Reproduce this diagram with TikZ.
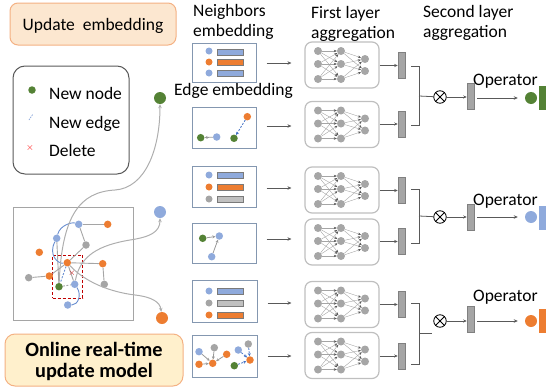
\documentclass[tikz,border=0pt]{standalone}
\usepackage{fontspec}
\setmainfont{Carlito}
\usetikzlibrary{arrows.meta}
\definecolor{cblue}{RGB}{143,170,220}
\definecolor{dblue}{RGB}{68,114,196}
\definecolor{corange}{RGB}{237,125,49}
\definecolor{cgray}{RGB}{165,165,165}
\definecolor{cgreen}{RGB}{84,130,53}
\definecolor{ebord}{RGB}{132,151,176}
\definecolor{nnbord}{RGB}{191,191,191}
\definecolor{darkl}{RGB}{89,89,89}
\definecolor{peach}{RGB}{252,231,208}
\definecolor{orbord}{RGB}{244,177,131}
\definecolor{ylw}{RGB}{255,240,204}
\definecolor{nnode}{RGB}{166,166,166}
\definecolor{delred}{RGB}{192,0,0}
\newcommand\nnet[2]{%
  \node[nnbox] (#1) at (342,#2) {};
  \node[nn] (#1a1) at (318,{#2-14}) {};
  \node[nn] (#1a2) at (318,{#2-1}) {};
  \node[nn] (#1a3) at (318,{#2+14}) {};
  \node[nn] (#1b1) at (341,{#2-14}) {};
  \node[nn] (#1b2) at (341,{#2-1}) {};
  \node[nn] (#1b3) at (341,{#2+14}) {};
  \node[nn] (#1c1) at (365,{#2-6}) {};
  \node[nn] (#1c2) at (365,{#2+6}) {};
  \foreach \i in {1,2,3}{\foreach \j in {1,2,3}{\draw[nnl] (#1a\i) -- (#1b\j);}}
  \foreach \i in {1,2,3}{\foreach \j in {1,2}{\draw[nnl] (#1b\i) -- (#1c\j);}}
}
\begin{document}
\begin{tikzpicture}[x=1pt,y=-1pt,
  txt/.style={font=\fontsize{17.5}{20}\selectfont, inner sep=0, anchor=base west},
  dot/.style={circle, inner sep=0, minimum size=7.5pt},
  gnode/.style={circle, inner sep=0, minimum size=7.5pt},
  bignode/.style={circle, inner sep=0, minimum size=12pt},
  ebox/.style={draw=ebord, line width=1pt, inner sep=0},
  ebar/.style={draw=darkl!80, line width=0.6pt, inner sep=0, minimum width=26pt, minimum height=6pt},
  nnbox/.style={draw=nnbord, line width=1.2pt, rounded corners=7pt, minimum width=74pt, minimum height=46pt, inner sep=0},
  nn/.style={circle, fill=nnode, inner sep=0, minimum size=8pt},
  nnl/.style={draw=cgray, line width=0.4pt, -{Stealth[length=3pt,width=2.5pt,color=darkl]}},
  gbar/.style={fill=cgray, draw=gray, line width=0.5pt, minimum width=7pt, minimum height=26pt, inner sep=0},
  cbar/.style={minimum width=7pt, minimum height=24pt, inner sep=0},
  arr/.style={draw=darkl, line width=0.9pt, -{Stealth[length=4pt,width=3.5pt]}},
  thinarr/.style={draw=darkl, line width=0.7pt, -{Stealth[length=3.5pt,width=3pt]}},
  garr/.style={draw=cgray!90, line width=1pt, -{Stealth[length=4pt,width=3.5pt]}},
  gedge/.style={draw=cgray, line width=0.9pt},
  bedge/.style={draw=dblue!80, line width=0.9pt},
  smallg/.style={draw=gray!80, line width=0.8pt, -{Stealth[length=3pt,width=3pt]}},
  smallb/.style={draw=dblue, line width=0.8pt, dashed, dash pattern=on 2pt off 1.5pt, -{Stealth[length=3pt,width=3pt]}},
  brk/.style={draw=darkl, line width=0.8pt},
  otimes/.style={circle, draw=black, line width=0.8pt, minimum size=12.5pt, inner sep=0}
]
\useasboundingbox (0,0) rectangle (549,391);

% ---------- left side ----------
\node[draw=orbord, fill=peach, line width=1pt, rounded corners=8pt, minimum width=166pt, minimum height=42pt, inner sep=0] (upd) at (93,24) {};
\node[font=\fontsize{17.5}{20}\selectfont, inner sep=0, anchor=base] (updt) at (93,30) {Update~\ embedding};

\node[draw=darkl, line width=1pt, rounded corners=12pt, minimum width=116pt, minimum height=108pt, inner sep=0] (leg) at (71,120) {};
\node[dot, fill=cgreen] (lg1) at (32,90) {};
\node[txt] (lt1) at (49,99) {New node};
\coordinate (le1) at (29,120);
\coordinate (le2) at (33,114);
\draw[draw=cblue, line width=0.8pt, dash pattern=on 1.5pt off 1pt] (le1) -- (le2);
\node[txt] (lt2) at (49,128) {New edge};
\node[text=red, font=\fontsize{10}{10}\selectfont, inner sep=0] (lx) at (30,148) {$\times$};
\node[txt] (lt3) at (49,156) {Delete};

% graph box
\node[draw=cgray, line width=1pt, minimum width=120pt, minimum height=113pt, inner sep=0] (gbox) at (73,263.5) {};
\node[draw=delred, dashed, dash pattern=on 3pt off 2pt, line width=1pt, minimum width=30pt, minimum height=43pt, inner sep=0] (dbox) at (67.7,276.5) {};

\node[gnode, fill=cblue] (g1) at (78.7,224.3) {};
\node[gnode, fill=corange] (g2) at (107.7,224.3) {};
\node[gnode, fill=cblue] (g3) at (56.7,238.3) {};
\node[gnode, fill=cgray] (g4) at (86,245) {};
\node[gnode, fill=corange] (g5) at (39.3,252.3) {};
\node[gnode, fill=corange] (g6) at (67.3,262.7) {};
\node[gnode, fill=corange] (g7) at (102.7,263.7) {};
\node[gnode, fill=cgray] (g8) at (28.7,277.7) {};
\node[gnode, fill=corange] (g9) at (49.3,276) {};
\node[gnode, fill=cgreen] (g10) at (59,286.7) {};
\node[gnode, fill=cblue] (g11) at (74.7,284.3) {};
\node[gnode, fill=cgray] (g12) at (104.3,284.3) {};
\node[gnode, fill=cblue] (g13) at (67.7,305) {};

\draw[gedge] (g1) -- (g2);
\draw[gedge] (g1) -- (g4);
\draw[gedge] (g4) -- (g6);
\draw[gedge] (g6) -- (g7);
\draw[gedge] (g7) -- (g12);
\draw[gedge] (g8) -- (g9);
\draw[gedge] (g9) -- (g6);
\draw[gedge] (g3) -- (g10);
\draw[gedge] (g6) -- (g11);
\draw[gedge, dashed, dash pattern=on 2pt off 1.5pt] (g10) -- (g11);
\draw[bedge, dashed, dash pattern=on 2pt off 1.5pt] (g6) -- (g10);
\draw[bedge] (g3) .. controls (60,225) and (72,222) .. (g1);
\draw[bedge] (g3) .. controls (48,255) and (58,264) .. (g6);
\draw[bedge] (g11) .. controls (82,295) and (78,305) .. (g13);
\node[text=delred, font=\fontsize{9}{9}\selectfont, inner sep=0] (gx) at (72,273.7) {$\times$};

\node[bignode, fill=cgreen] (bigG) at (160,98) {};
\node[bignode, fill=cblue] (bigB) at (160,212) {};
\node[bignode, fill=corange] (bigO) at (162,318) {};
\draw[garr] (g10) .. controls (62,215) and (80,192) .. (115,190) .. controls (145,188) and (160,150) .. (bigG);
\draw[garr] (g11) .. controls (80,255) and (100,245) .. (130,240) .. controls (150,237) and (160,232) .. (bigB);
\draw[garr] (g6) .. controls (85,282) and (110,292) .. (135,295) .. controls (152,297) and (160,302) .. (bigO);

\node[draw=orbord, fill=ylw, line width=1pt, rounded corners=10pt, minimum width=178pt, minimum height=52pt, inner sep=0] (onl) at (94,360) {};
\node[font=\bfseries\fontsize{20.3}{21}\selectfont, inner sep=0, anchor=base] (onl1) at (94,356) {Online real-time};
\node[font=\bfseries\fontsize{20.3}{21}\selectfont, inner sep=0, anchor=base] (onl2) at (94,377) {update model};

% ---------- headers ----------
\node[txt] (h1a) at (193,16) {Neighbors};
\node[txt] (h1b) at (193,36) {embedding};
\node[txt] (h2) at (174,95) {Edge embedding};
\node[txt] (h3a) at (311,18) {First layer};
\node[txt] (h3b) at (311,38) {aggregation};
\node[txt] (h4a) at (423,17) {Second layer};
\node[txt] (h4b) at (423,37) {aggregation};

% ---------- embedding boxes ----------
\node[ebox, minimum width=64pt, minimum height=39pt] (e1) at (224,62.5) {};
\node[ebox, minimum width=64pt, minimum height=41pt] (e2) at (224,127.5) {};
\node[ebox, minimum width=64pt, minimum height=41pt] (e3) at (224,186.5) {};
\node[ebox, minimum width=64pt, minimum height=40pt] (e4) at (224,243) {};
\node[ebox, minimum width=65pt, minimum height=42pt] (e5) at (224.5,301) {};
\node[ebox, minimum width=65pt, minimum height=42pt] (e6) at (224.5,356) {};

% row 1
\node[dot, minimum size=7pt, fill=cblue] (d11) at (209,51) {};
\node[dot, minimum size=7pt, fill=corange] (d12) at (209,62) {};
\node[dot, minimum size=7pt, fill=cblue] (d13) at (209,73) {};
\node[ebar, fill=cblue] (b11) at (230,52) {};
\node[ebar, fill=corange] (b12) at (230,62.5) {};
\node[ebar, fill=cblue] (b13) at (230,73) {};
% row 3
\node[dot, minimum size=7pt, fill=cblue] (d31) at (209,175) {};
\node[dot, minimum size=7pt, fill=corange] (d32) at (209,187) {};
\node[dot, minimum size=7pt, fill=cgray] (d33) at (209,199) {};
\node[ebar, fill=cblue] (b31) at (230.5,175.5) {};
\node[ebar, fill=corange] (b32) at (230.5,187) {};
\node[ebar, fill=cgray!70] (b33) at (230.5,199) {};
% row 5
\node[dot, minimum size=7pt, fill=cblue] (d51) at (209,291) {};
\node[dot, minimum size=7pt, fill=cgray] (d52) at (209,303) {};
\node[dot, minimum size=7pt, fill=corange] (d53) at (209,315) {};
\node[ebar, fill=cblue] (b51) at (230.5,291) {};
\node[ebar, fill=cgray!70] (b52) at (230.5,303) {};
\node[ebar, fill=corange] (b53) at (230.5,315) {};

% row 2
\node[dot, fill=cgreen] (r2a) at (200.7,137.7) {};
\node[dot, fill=cblue] (r2b) at (216.7,137) {};
\node[dot, fill=cgreen] (r2c) at (234,138.3) {};
\node[dot, fill=corange] (r2d) at (247.3,116.7) {};
\draw[smallg] (r2b) -- (r2a);
\draw[smallb] (r2d) -- (r2c);
% row 4
\node[dot, fill=cgreen] (r4a) at (202.7,238.3) {};
\node[dot, fill=cblue] (r4b) at (219.3,236) {};
\node[dot, fill=cblue] (r4c) at (211.7,256.7) {};
\draw[smallg] (r4a) -- (r4b);
\draw[smallg] (r4c) -- (r4b);
% row 6
\node[dot, fill=cblue] (r6a) at (199,351.7) {};
\node[dot, fill=corange] (r6b) at (199,364.3) {};
\node[dot, fill=cgray] (r6c) at (214.3,347.7) {};
\node[dot, fill=corange] (r6d) at (212.7,363.3) {};
\node[dot, fill=corange] (r6e) at (226.7,354.3) {};
\node[dot, fill=cblue] (r6f) at (238.3,350) {};
\node[dot, fill=cgray] (r6g) at (248.3,344) {};
\node[dot, fill=corange] (r6h) at (250,360) {};
\node[dot, fill=cgreen] (r6i) at (234.3,365.7) {};
\draw[smallg] (r6a) -- (r6d);
\draw[smallg] (r6b) -- (r6d);
\draw[smallg] (r6c) -- (r6d);
\draw[smallg] (r6e) -- (r6d);
\draw[smallb] (r6f) -- (r6h);
\draw[smallb] (r6g) -- (r6h);
\draw[smallb] (r6i) -- (r6h);

% ---------- networks ----------
\nnet{n1}{65}
\nnet{n2}{124.5}
\nnet{n3}{190}
\nnet{n4}{242}
\nnet{n5}{304.5}
\nnet{n6}{355.5}

\draw[arr, shorten <=10pt, shorten >=13pt] (e1.east |- 0,63) -- (n1.west |- 0,63);
\draw[arr, shorten <=10pt, shorten >=13pt] (e2.east |- 0,126) -- (n2.west |- 0,126);
\draw[arr, shorten <=10pt, shorten >=13pt] (e3.east |- 0,188) -- (n3.west |- 0,188);
\draw[arr, shorten <=10pt, shorten >=13pt] (e4.east |- 0,239) -- (n4.west |- 0,239);
\draw[arr, shorten <=10pt, shorten >=13pt] (e5.east |- 0,303) -- (n5.west |- 0,303);
\draw[arr, shorten <=10pt, shorten >=13pt] (e6.east |- 0,356) -- (n6.west |- 0,356);

% ---------- first-layer outputs ----------
\node[gbar] (o1) at (401.5,65.5) {};
\node[gbar] (o2) at (401.5,124) {};
\node[gbar] (o3) at (401.5,190.5) {};
\node[gbar] (o4) at (401.5,241.5) {};
\node[gbar] (o5) at (401.5,304.5) {};
\node[gbar] (o6) at (401.5,356) {};
\draw[thinarr] (n1.east |- o1) -- (o1);
\draw[thinarr] (n2.east |- o2) -- (o2);
\draw[thinarr] (n3.east |- o3) -- (o3);
\draw[thinarr] (n4.east |- o4) -- (o4);
\draw[thinarr] (n5.east |- o5) -- (o5);
\draw[thinarr] (n6.east |- o6) -- (o6);

% brackets and combination
\node[otimes] (x1) at (440,97) {};
\node[otimes] (x2) at (440,217) {};
\node[otimes] (x3) at (440,321) {};
\foreach \k in {1,2,3}{\draw[line width=0.8pt] (x\k.45) -- (x\k.225) (x\k.135) -- (x\k.315);}

\draw[brk] (411,66) -- (419,66) -- (419,125) -- (411,125);
\draw[brk] (419,96) -- (x1);
\draw[brk] (411,189) -- (419,189) -- (419,243) -- (411,243);
\draw[brk] (419,216) -- (x2);
\draw[brk] (411,303) -- (419,303) -- (419,364) -- (411,364);
\coordinate (t3) at (432,333);
\draw[brk] (419,333) -- (t3);

\node[gbar] (s1) at (470.5,96) {};
\node[gbar] (s2) at (470.5,217.5) {};
\node[gbar] (s3) at (470.5,319.5) {};
\draw[thinarr] (x1) -- (s1.west |- x1);
\draw[thinarr] (x2) -- (s2.west |- x2);
\draw[thinarr] (x3) -- (s3.west |- x3);

\node[bignode, fill=cgreen] (f1) at (531,98) {};
\node[bignode, fill=cblue] (f2) at (531,217) {};
\node[bignode, fill=corange] (f3) at (531,321) {};
\node[cbar, fill=cgreen] (c1) at (542.5,98) {};
\node[cbar, fill=cblue] (c2) at (542.5,217.5) {};
\node[cbar, fill=corange] (c3) at (542.5,320.5) {};
\draw[arr, line width=0.8pt, shorten <=3pt, shorten >=7pt] (s1.east |- f1) -- (f1);
\draw[arr, line width=0.8pt, shorten <=3pt, shorten >=7pt] (s2.east |- f2) -- (f2);
\draw[arr, line width=0.8pt, shorten <=3pt, shorten >=7pt] (s3.east |- f3) -- (f3);

\node[txt] (op1) at (473,85) {Operator};
\node[txt] (op2) at (473,205) {Operator};
\node[txt] (op3) at (473,301) {Operator};
\end{tikzpicture}
\end{document}
